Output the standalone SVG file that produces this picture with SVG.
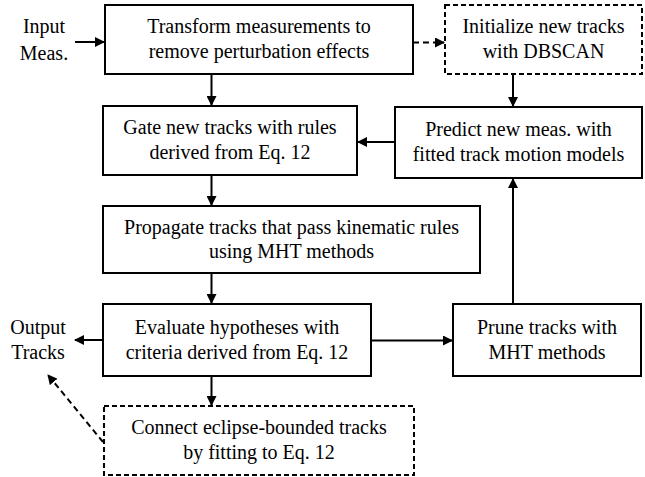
<svg xmlns="http://www.w3.org/2000/svg" width="645" height="477" viewBox="0 0 645 477">
<defs>
<marker id="ah" markerWidth="10" markerHeight="10" refX="9" refY="5" orient="auto" markerUnits="userSpaceOnUse">
<path d="M0,0 L10,5 L0,10 Z" fill="#000"/>
</marker>
</defs>
<rect width="645" height="477" fill="#fff"/>
<g font-size="20" fill="#000" text-anchor="middle">
<g id="input">
<text font-family="Liberation Serif" x="44" y="33">Input</text>
<text font-family="Liberation Serif" x="44" y="60">Meas.</text>
</g>
<g id="output">
<text font-family="Liberation Serif" x="38" y="334">Output</text>
<text font-family="Liberation Serif" x="38" y="359">Tracks</text>
</g>
<g id="n1">
<rect fill="#fff" stroke="#000" stroke-width="2" x="105" y="5" width="308" height="69"/>
<text font-family="Liberation Serif" x="259" y="33">Transform measurements to</text>
<text font-family="Liberation Serif" x="259" y="58">remove perturbation effects</text>
</g>
<g id="n2">
<rect fill="#fff" stroke="#000" stroke-width="2" stroke-dasharray="5 3" x="445" y="5" width="197" height="69"/>
<text font-family="Liberation Serif" x="543.5" y="33">Initialize new tracks</text>
<text font-family="Liberation Serif" x="543.5" y="58">with DBSCAN</text>
</g>
<g id="n3">
<rect fill="#fff" stroke="#000" stroke-width="2" x="103" y="106" width="254" height="69"/>
<text font-family="Liberation Serif" x="230" y="134">Gate new tracks with rules</text>
<text font-family="Liberation Serif" x="230" y="159">derived from Eq. 12</text>
</g>
<g id="n4">
<rect fill="#fff" stroke="#000" stroke-width="2" x="395" y="107" width="247" height="71"/>
<text font-family="Liberation Serif" x="518.5" y="136">Predict new meas. with</text>
<text font-family="Liberation Serif" x="518.5" y="161">fitted track motion models</text>
</g>
<g id="n5">
<rect fill="#fff" stroke="#000" stroke-width="2" x="103" y="206" width="377" height="67"/>
<text font-family="Liberation Serif" x="291.5" y="234">Propagate tracks that pass kinematic rules</text>
<text font-family="Liberation Serif" x="291.5" y="258">using MHT methods</text>
</g>
<g id="n6">
<rect fill="#fff" stroke="#000" stroke-width="2" x="103" y="304" width="268" height="72"/>
<text font-family="Liberation Serif" x="237" y="334">Evaluate hypotheses with</text>
<text font-family="Liberation Serif" x="237" y="359">criteria derived from Eq. 12</text>
</g>
<g id="n7">
<rect fill="#fff" stroke="#000" stroke-width="2" x="453" y="304" width="188" height="72"/>
<text font-family="Liberation Serif" x="547" y="334">Prune tracks with</text>
<text font-family="Liberation Serif" x="547" y="359">MHT methods</text>
</g>
<g id="n8">
<rect fill="#fff" stroke="#000" stroke-width="2" stroke-dasharray="5 3" x="104" y="406" width="310" height="69"/>
<text font-family="Liberation Serif" x="259" y="434">Connect eclipse-bounded tracks</text>
<text font-family="Liberation Serif" x="259" y="459">by fitting to Eq. 12</text>
</g>
</g>
<g id="connectors" fill="none" stroke="#000" stroke-width="2">
<line x1="75" y1="42" x2="104" y2="42" marker-end="url(#ah)"/>
<line stroke-dasharray="6 4" x1="413" y1="42.5" x2="444" y2="42.5" marker-end="url(#ah)"/>
<line x1="211.5" y1="74" x2="211.5" y2="105" marker-end="url(#ah)"/>
<line x1="513" y1="74" x2="513" y2="106" marker-end="url(#ah)"/>
<line x1="395" y1="142" x2="358" y2="142" marker-end="url(#ah)"/>
<line x1="211.5" y1="175" x2="211.5" y2="205" marker-end="url(#ah)"/>
<line x1="211.5" y1="273" x2="211.5" y2="303" marker-end="url(#ah)"/>
<line x1="371" y1="340.5" x2="452" y2="340.5" marker-end="url(#ah)"/>
<line x1="513" y1="304" x2="513" y2="179" marker-end="url(#ah)"/>
<line x1="103" y1="340" x2="75" y2="340" marker-end="url(#ah)"/>
<line x1="211.5" y1="376" x2="211.5" y2="405" marker-end="url(#ah)"/>
<line stroke-dasharray="6 4" x1="103" y1="442" x2="48" y2="375" marker-end="url(#ah)"/>
</g>
</svg>
